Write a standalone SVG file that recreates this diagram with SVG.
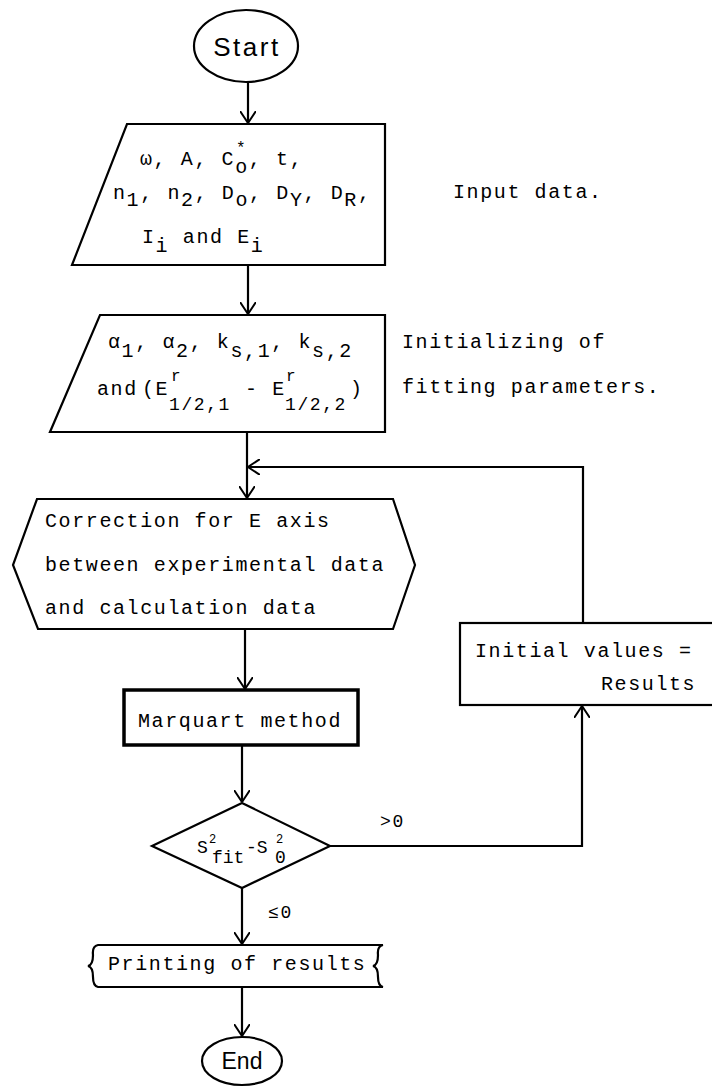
<svg xmlns="http://www.w3.org/2000/svg" width="712" height="1088" viewBox="0 0 712 1088">
<style>
.t{font-family:"Liberation Mono","DejaVu Sans Mono",monospace;font-size:20px;letter-spacing:1.6px;fill:#000}
.sm{font-size:16px;letter-spacing:0}
.sn{font-family:"Liberation Sans","DejaVu Sans",sans-serif;fill:#000}
.shape{fill:#fff;stroke:#000;stroke-width:2.2}
.conn{fill:none;stroke:#000;stroke-width:2.2}
</style>
<defs>
<marker id="arr" viewBox="0 0 12 16" refX="12" refY="8" markerWidth="12" markerHeight="16" markerUnits="userSpaceOnUse" orient="auto">
<path d="M0,0 L12,8 L0,16" fill="none" stroke="#000" stroke-width="2"/>
</marker>
</defs>
<rect width="712" height="1088" fill="#fff"/>

<g id="connectors">
<path class="conn" d="M248,82 V123" marker-end="url(#arr)"/>
<path class="conn" d="M248,265 V314" marker-end="url(#arr)"/>
<path class="conn" d="M247,432 V498" marker-end="url(#arr)"/>
<path class="conn" d="M583,623 V467 H248" marker-end="url(#arr)"/>
<path class="conn" d="M245,629 V689" marker-end="url(#arr)"/>
<path class="conn" d="M242,745 V802" marker-end="url(#arr)"/>
<path class="conn" d="M330,846 H582 V706" marker-end="url(#arr)"/>
<path class="conn" d="M242,888 V944" marker-end="url(#arr)"/>
<path class="conn" d="M242,987 V1036" marker-end="url(#arr)"/>
<text class="t" x="380" y="827" style="font-size:18px">&gt;0</text>
<text class="t" x="268" y="918" style="font-size:18px">≤0</text>
</g>

<g id="start">
<ellipse class="shape" cx="246" cy="46" rx="52" ry="36"/>
<text class="sn" x="247" y="56" text-anchor="middle" font-size="26" letter-spacing="2.5">Start</text>
</g>

<g id="input">
<polygon class="shape" points="127,124 385,124 385,265 72,265"/>
<text class="t" x="140" y="165">ω, A, C<tspan y="173">o</tspan><tspan y="165">, t,</tspan></text>
<text class="t sm" x="236" y="153">*</text>
<text class="t" x="113" y="199">n<tspan y="206">1</tspan><tspan y="199">, n</tspan><tspan y="206">2</tspan><tspan y="199">, D</tspan><tspan y="206">o</tspan><tspan y="199">, D</tspan><tspan y="206">Y</tspan><tspan y="199">, D</tspan><tspan y="206">R</tspan><tspan y="199">,</tspan></text>
<text class="t" x="142" y="243">I<tspan y="252">i</tspan><tspan y="243"> and E</tspan><tspan y="252">i</tspan></text>
<text class="t" x="453" y="198">Input data.</text>
</g>

<g id="init">
<polygon class="shape" points="100,315 385,315 385,432 50,432"/>
<text class="t" x="108" y="348">α<tspan y="357">1</tspan><tspan y="348">, α</tspan><tspan y="357">2</tspan><tspan y="348">, k</tspan><tspan y="357">s,1</tspan><tspan y="348">, k</tspan><tspan y="357">s,2</tspan></text>
<text class="t" x="97" y="395">and</text>
<text class="t" x="142" y="395">(E</text>
<text class="t sm" x="171" y="381">r</text>
<text class="t" x="169" y="410" style="font-size:18px">1/2,1</text>
<text class="t" x="245" y="395">- E</text>
<text class="t sm" x="286" y="381">r</text>
<text class="t" x="285" y="410" style="font-size:18px">1/2,2</text>
<text class="t" x="350" y="395">)</text>
<text class="t" x="402" y="348">Initializing of</text>
<text class="t" x="402" y="393">fitting parameters.</text>
</g>

<g id="correction">
<polygon class="shape" points="37,499 393,499 415,565 393,629 38,629 13,565"/>
<text class="t" x="45" y="527">Correction for E axis</text>
<text class="t" x="45" y="571">between experimental data</text>
<text class="t" x="45" y="614">and calculation data</text>
</g>

<g id="marquart">
<rect x="124" y="690" width="234" height="55" fill="#fff" stroke="#000" stroke-width="3.5"/>
<text class="t" x="138" y="727">Marquart method</text>
</g>

<g id="decision">
<polygon class="shape" points="242,803 330,846 242,888 152,846"/>
<text class="t" x="197" y="853" style="font-size:18px;letter-spacing:0">S</text>
<text class="t" x="209" y="843" style="font-size:12px;letter-spacing:0">2</text>
<text class="t" x="212" y="863" style="font-size:18px;letter-spacing:0">fit</text>
<text class="t" x="246" y="853" style="font-size:18px;letter-spacing:0">-S</text>
<text class="t" x="276" y="843" style="font-size:12px;letter-spacing:0">2</text>
<text class="t" x="275" y="863" style="font-size:18px;letter-spacing:0">0</text>
</g>

<g id="update">
<rect class="shape" x="460" y="623" width="270" height="82"/>
<text class="t" x="475" y="657">Initial values =</text>
<text class="t" x="601" y="690">Results</text>
</g>

<g id="print">
<path class="shape" d="M98,945 L383,945 Q377,946 378,955 Q378,965 373,966 Q378,967 378,977 Q378,986 383,987 L98,987 Q93,986 93,977 Q93,967 88,966 Q93,965 93,955 Q92,946 98,945 Z"/>
<text class="t" x="108" y="970">Printing of results</text>
</g>

<g id="end">
<ellipse class="shape" cx="242" cy="1061" rx="40" ry="24"/>
<text class="sn" x="242" y="1069" text-anchor="middle" font-size="23">End</text>
</g>
</svg>
